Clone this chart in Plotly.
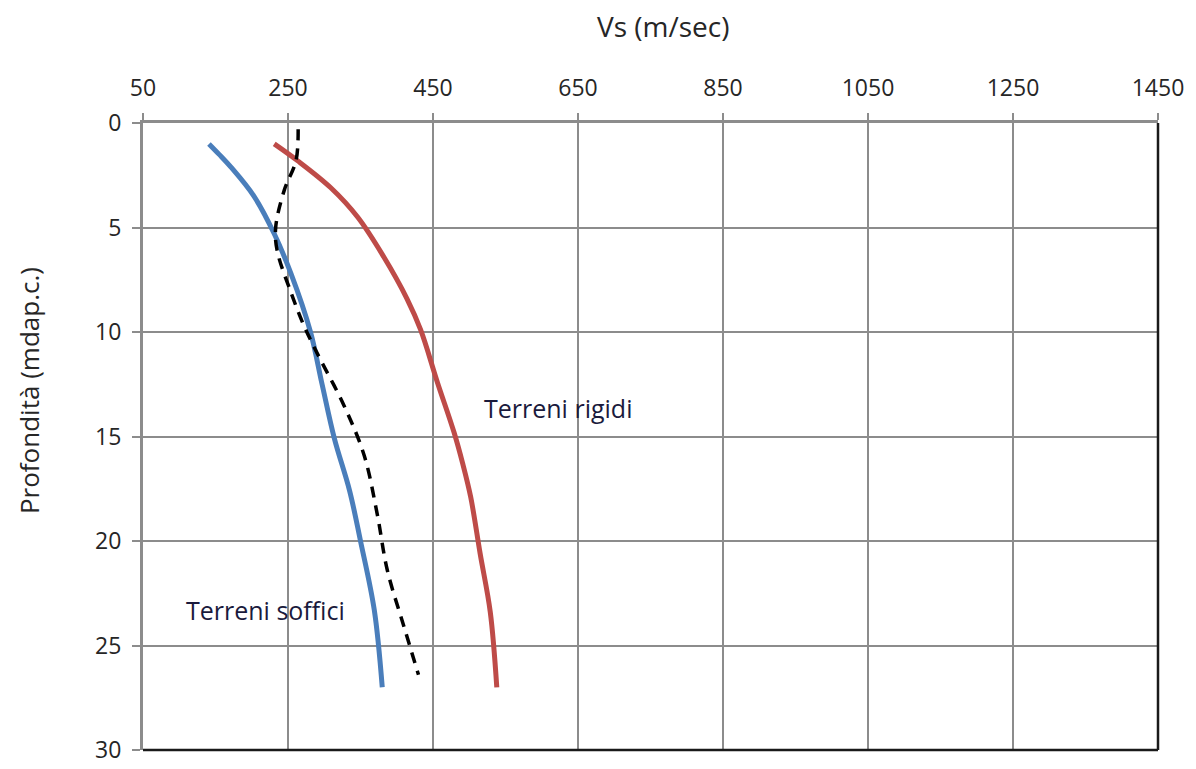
import plotly.graph_objects as go

# Soft soils (blue)
soft_depth = [1.0, 1.5, 2.1, 3.5, 5.3, 7.2, 10.0, 12.5, 15.1, 17.6, 20.0, 23.3, 27.0]
soft_vs = [141, 155, 171, 203, 231, 254, 281, 297, 314, 335, 350, 369, 380]

# Rigid soils (red)
rigid_depth = [1.0, 1.8, 3.1, 4.5, 6.4, 8.4, 9.9, 12.4, 14.8, 16.3, 17.9, 20.6, 23.4, 27.0]
rigid_vs = [231, 263, 309, 346, 382, 414, 433, 456, 479, 491, 502, 515, 529, 538]

# Dashed reference profile
ref_depth = [0.3, 1.8, 3.2, 5.0, 6.1, 8.1, 9.7, 11.0, 13.5, 15.9, 18.7, 21.4, 24.1, 26.4]
ref_vs = [264, 261, 245, 233, 235, 254, 272, 290, 327, 355, 373, 387, 410, 430]

x_ticks = [50, 250, 450, 650, 850, 1050, 1250, 1450]
y_ticks = [0, 5, 10, 15, 20, 25, 30]

label_text = ["Terreni rigidi", "Terreni soffici"]
label_vs = [623, 219]
label_depth = [13.65, 23.3]

x_title = "Vs (m/sec)"
y_title = "Profondità (mdap.c.)"

FONT = "Open Sans, Liberation Sans, sans-serif"
GRID = "#8c8c8c"
TXT = "#262626"

fig = go.Figure()
fig.add_trace(go.Scatter(x=soft_vs, y=soft_depth, mode="lines",
                         line=dict(color="#4a7ebb", width=5, shape="spline"),
                         showlegend=False))
fig.add_trace(go.Scatter(x=rigid_vs, y=rigid_depth, mode="lines",
                         line=dict(color="#be4b48", width=5, shape="spline"),
                         showlegend=False))
fig.add_trace(go.Scatter(x=ref_vs, y=ref_depth, mode="lines",
                         line=dict(color="black", width=3.5, dash="11px,8px", shape="spline"),
                         showlegend=False))

for t, xv, yv in zip(label_text, label_vs, label_depth):
    fig.add_annotation(x=xv, y=yv, text=t, showarrow=False,
                       font=dict(family=FONT, size=25, color="#1a1a3c"))

# axis titles (placed like the original, offset from the plot centre)
fig.add_annotation(xref="paper", yref="paper", x=0.513, y=1.155, text=x_title,
                   showarrow=False, xanchor="center", yanchor="middle",
                   font=dict(family=FONT, size=28, color=TXT))
fig.add_annotation(xref="paper", yref="paper", x=-0.113, y=0.573, text=y_title,
                   textangle=-90, showarrow=False, xanchor="center", yanchor="middle",
                   font=dict(family=FONT, size=26, color=TXT))

fig.update_layout(
    width=1196, height=769,
    margin=dict(l=135, r=46, t=115, b=18),
    paper_bgcolor="white", plot_bgcolor="white",
    font=dict(family=FONT, color=TXT),
    xaxis=dict(side="top", range=[50, 1450], tickvals=x_ticks,
               showgrid=True, gridcolor=GRID, gridwidth=2,
               showline=True, linecolor=GRID, linewidth=3,
               ticks="outside", ticklen=7, tickwidth=2, tickcolor=GRID,
               ticklabelstandoff=8,
               tickfont=dict(size=23, family=FONT, color=TXT),
               zeroline=False),
    yaxis=dict(range=[30, 0], tickvals=y_ticks,
               showgrid=True, gridcolor=GRID, gridwidth=2,
               showline=True, linecolor=GRID, linewidth=3,
               ticks="outside", ticklen=8, tickwidth=2, tickcolor=GRID,
               ticklabelstandoff=6,
               tickfont=dict(size=23, family=FONT, color=TXT),
               zeroline=False),
    shapes=[dict(type="line", xref="paper", yref="paper", x0=0, x1=1, y0=0, y1=0,
                 line=dict(color="#1a1a1a", width=2.5)),
            dict(type="line", xref="paper", yref="paper", x0=1, x1=1, y0=0, y1=1,
                 line=dict(color="#1a1a1a", width=2.5))],
)

fig.write_html("out.html")
